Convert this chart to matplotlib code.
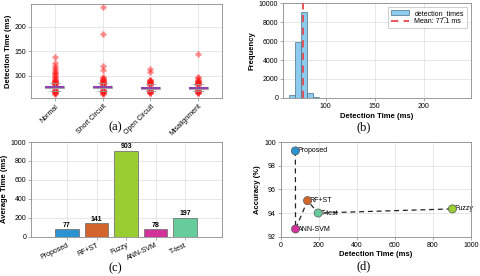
import matplotlib
matplotlib.use('Agg')
import matplotlib.pyplot as plt

# (a) detection time box plot per fault class
fault_classes = ['Normal', 'Short Circuit', 'Open Circuit', 'Misalignment']
box_medians = [77, 77, 76, 76]
box_q1 = [75, 75, 74, 74]
box_q3 = [79, 79, 78, 78]
box_whislo = [70, 70, 70, 70]
box_whishi = [85, 85, 84, 84]
fliers_normal = [64, 65, 66, 67, 68, 69, 70, 71, 72, 82, 83, 84, 85, 86, 87, 88, 89, 90, 91, 92,
                 95, 97, 100, 103, 106, 109, 112, 116, 120, 127, 138]
fliers_short = [64, 65, 66, 67, 68, 69, 70, 71, 72, 82, 83, 84, 85, 86, 87, 88, 89, 90, 91, 92,
                94, 96, 98, 113, 120, 185, 240]
fliers_open = [65, 66, 67, 68, 69, 70, 71, 72, 82, 83, 84, 85, 86, 87, 88, 89, 90, 91,
               92, 108, 115]
fliers_misalign = [65, 66, 67, 68, 69, 70, 71, 72, 82, 83, 84, 85, 86, 87, 88, 89, 90, 91,
                   95, 98, 145]

# (b) histogram of detection times
hist_left_edges = [63, 69, 75, 81, 87, 93, 99, 105, 111, 117, 123, 129, 135, 141, 147,
                   153, 159, 165, 171, 177, 183, 189, 195, 201, 207, 213, 219, 225, 231, 237]
hist_counts = [350, 5850, 9100, 560, 100, 30, 14, 8, 6, 4, 3, 2, 2, 1, 1,
               1, 0, 0, 0, 0, 1, 0, 0, 0, 0, 0, 0, 0, 0, 1]
mean_time = 77.1

# (c) / (d) method comparison
methods = ['Proposed', 'RF+ST', 'Fuzzy', 'ANN-SVM', 'T-test']
avg_time = [77, 141, 903, 78, 197]
accuracy = [99.25, 95.05, 94.35, 92.65, 94.0]
method_colors = ['#2b93d1', '#d2652d', '#9acd32', '#d1339b', '#66cc99']

plt.rcParams['font.family'] = ['Liberation Sans', 'DejaVu Sans']

GRID = dict(color='#dddddd', linewidth=0.5)
SPINE = '#8a8a8a'


def style_axes(ax):
    for s in ax.spines.values():
        s.set_color(SPINE)
        s.set_linewidth(0.6)
    ax.tick_params(labelsize=5, length=2, width=0.5, color=SPINE, pad=1.5)
    ax.grid(True, **GRID)
    ax.set_axisbelow(True)


fig = plt.figure(figsize=(4.8, 2.76), dpi=100)
ax_a = fig.add_axes([0.0646, 0.645, 0.398, 0.341])
ax_b = fig.add_axes([0.5896, 0.645, 0.3914, 0.344])
ax_c = fig.add_axes([0.0646, 0.1424, 0.398, 0.343])
ax_d = fig.add_axes([0.5848, 0.1424, 0.3962, 0.343])

# ---- (a) box plot
all_fliers = [fliers_normal, fliers_short, fliers_open, fliers_misalign]
stats = []
for i in range(len(fault_classes)):
    stats.append(dict(med=box_medians[i], q1=box_q1[i], q3=box_q3[i],
                      whislo=box_whislo[i], whishi=box_whishi[i], fliers=[]))
    ax_a.plot([i + 1] * len(all_fliers[i]), all_fliers[i], '+', color='#ff1a1a',
              markersize=5, markeredgewidth=1.8, alpha=0.5, zorder=2)
ax_a.bxp(stats, positions=[1, 2, 3, 4], widths=0.4, showfliers=False, patch_artist=True,
         boxprops=dict(facecolor='#c8c8c8', edgecolor='#999999', linewidth=0.6),
         medianprops=dict(color='#8e44ad', linewidth=1.5),
         whiskerprops=dict(color='#999999', linewidth=0.6),
         capprops=dict(color='#999999', linewidth=0.6), zorder=3)
ax_a.set_xlim(0.5, 4.5)
ax_a.set_ylim(55, 247)
ax_a.set_yticks([100, 150, 200])
ax_a.set_xticks([1, 2, 3, 4])
ax_a.set_xticklabels(fault_classes, rotation=45, ha='right', rotation_mode='anchor')
ax_a.set_ylabel('Detection Time (ms)', fontsize=5.5, fontweight='bold', labelpad=2)
style_axes(ax_a)

# ---- (b) histogram
bars = ax_b.bar(hist_left_edges, hist_counts, width=6, align='edge', color='#8ccbed',
                edgecolor='#4a6f8a', linewidth=0.5, label='detection_times', zorder=2)
mline = ax_b.axvline(mean_time, color='#e8474c', linestyle='--', linewidth=1.3,
                     dashes=(4, 3), label=f'Mean: {mean_time} ms', zorder=3)
ax_b.set_xlim(56.5, 248)
ax_b.set_ylim(0, 10000)
ax_b.set_xticks([100, 150, 200])
ax_b.set_yticks([0, 2000, 4000, 6000, 8000, 10000])
ax_b.set_xlabel('Detection Time (ms)', fontsize=5.5, fontweight='bold', labelpad=2)
ax_b.set_ylabel('Frequency', fontsize=5.5, fontweight='bold', labelpad=2)
leg = ax_b.legend(handles=[bars, mline], loc='upper right', fontsize=5, frameon=True,
                  fancybox=False, borderpad=0.4, handlelength=2.6, labelspacing=0.2,
                  borderaxespad=0.6)
leg.get_frame().set_edgecolor('#aaaaaa')
leg.get_frame().set_linewidth(0.5)
style_axes(ax_b)

# ---- (c) average time bars
xpos = list(range(len(methods)))
ax_c.bar(xpos, avg_time, width=0.8, color=method_colors, edgecolor='#777777',
         linewidth=0.6, zorder=2)
for x, v in zip(xpos, avg_time):
    ax_c.text(x, v + 8, str(v), ha='center', va='bottom', fontsize=5, fontweight='bold')
ax_c.set_xlim(-1.22, 5.25)
ax_c.set_ylim(0, 1000)
ax_c.set_xticks(xpos)
ax_c.set_xticklabels(methods, rotation=25, ha='right', rotation_mode='anchor')
ax_c.set_yticks([0, 200, 400, 600, 800, 1000])
ax_c.set_ylabel('Average Time (ms)', fontsize=5.5, fontweight='bold', labelpad=2)
style_axes(ax_c)

# ---- (d) accuracy vs detection time
order = sorted(range(len(methods)), key=lambda i: avg_time[i])
ax_d.plot([avg_time[i] for i in order], [accuracy[i] for i in order], '--', color='#222222',
          linewidth=0.9, dashes=(4, 3), zorder=2)
ax_d.scatter(avg_time, accuracy, s=34, c=method_colors, edgecolors='#555555',
             linewidths=0.5, zorder=3)
for name, x, y in zip(methods, avg_time, accuracy):
    ax_d.text(x + 12, y, name, fontsize=5, va='center', ha='left', zorder=1)
ax_d.set_xlim(0, 1000)
ax_d.set_ylim(92, 100)
ax_d.set_xticks([0, 200, 400, 600, 800, 1000])
ax_d.set_yticks([92, 94, 96, 98, 100])
ax_d.set_xlabel('Detection Time (ms)', fontsize=5.5, fontweight='bold', labelpad=2)
ax_d.set_ylabel('Accuracy (%)', fontsize=5.5, fontweight='bold', labelpad=2)
style_axes(ax_d)

# panel captions
cap = dict(fontsize=9, family='Liberation Serif', ha='center', va='center')
fig.text(0.24, 1 - 127 / 276, '(a)', **cap)
fig.text(0.757, 1 - 127 / 276, '(b)', **cap)
fig.text(0.24, 1 - 268 / 276, '(c)', **cap)
fig.text(0.757, 1 - 266 / 276, '(d)', **cap)

fig.savefig('out.png', dpi=100)
